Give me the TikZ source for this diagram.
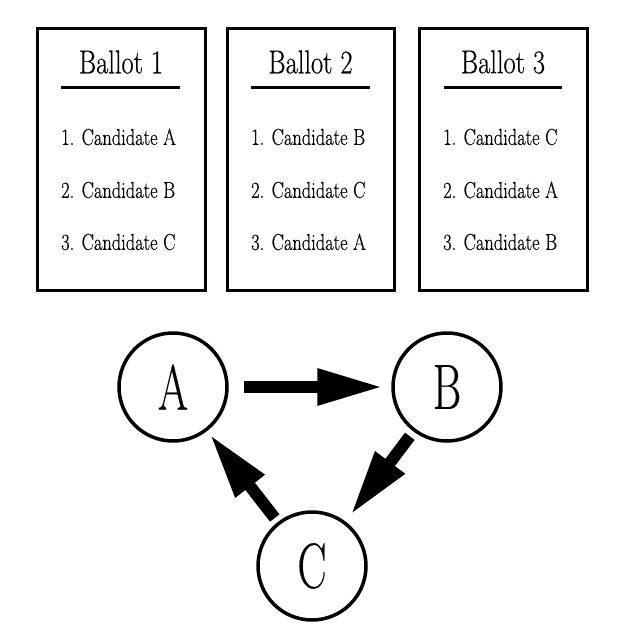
\documentclass[tikz,border=0pt]{standalone}
\usepackage{fontspec}
\setmainfont{Latin Modern Roman}
\newfontfamily\condtext{Latin Modern Roman}[FakeStretch=0.8,FakeBold=0.5]
\newfontfamily\condbig{Latin Modern Roman}[FakeStretch=0.68,FakeBold=0.3]
\usetikzlibrary{arrows.meta}
\tikzset{
  ballotbox/.style={draw, line width=3pt},
  ballottitle/.style={font=\condtext\fontsize{33}{38}\selectfont, inner sep=0pt},
  ballotitem/.style={font=\condtext\fontsize{23}{27}\selectfont, anchor=west, inner sep=0pt},
  titlerule/.style={line width=3pt},
  cand/.style={draw, circle, line width=3.5pt, minimum size=108pt, inner sep=0pt, font=\condbig\fontsize{64}{70}\selectfont},
  bigarrow/.style={line width=12pt, -{Triangle[length=66pt,width=34pt]}, draw=black}
}
\begin{document}
\begin{tikzpicture}[x=1pt,y=-1pt]
\useasboundingbox (0,0) rectangle (640,640);
% ballots
\draw[ballotbox] (37,28) rectangle (205,290);
\draw[ballotbox] (227,28) rectangle (394,290);
\draw[ballotbox] (419,28) rectangle (587,290);
\node[ballottitle] (t1) at (121,62) {Ballot 1};
\node[ballottitle] (t2) at (310.5,62) {Ballot 2};
\node[ballottitle] (t3) at (503,62) {Ballot 3};
\draw[titlerule] (61,87) -- (180,87);
\draw[titlerule] (251,87) -- (370,87);
\draw[titlerule] (444,87) -- (562,87);
\node[ballotitem] (i11) at (61,137) {1. Candidate A};
\node[ballotitem] (i12) at (61,190) {2. Candidate B};
\node[ballotitem] (i13) at (61,242) {3. Candidate C};
\node[ballotitem] (i21) at (251,137) {1. Candidate B};
\node[ballotitem] (i22) at (251,190) {2. Candidate C};
\node[ballotitem] (i23) at (251,242) {3. Candidate A};
\node[ballotitem] (i31) at (443,137) {1. Candidate C};
\node[ballotitem] (i32) at (443,190) {2. Candidate A};
\node[ballotitem] (i33) at (443,242) {3. Candidate B};
% graph
\node[cand] (A) at (173,387) {A};
\node[cand] (B) at (447,387) {B};
\node[cand] (C) at (312,566) {C};
\draw[bigarrow, shorten <=15pt, shorten >=8pt] (A) -- (B);
\draw[bigarrow, shorten <=6pt, shorten >=8pt] (B) -- (C);
\draw[bigarrow, shorten <=5pt, shorten >=4pt] (C) -- (A);
\end{tikzpicture}
\end{document}
